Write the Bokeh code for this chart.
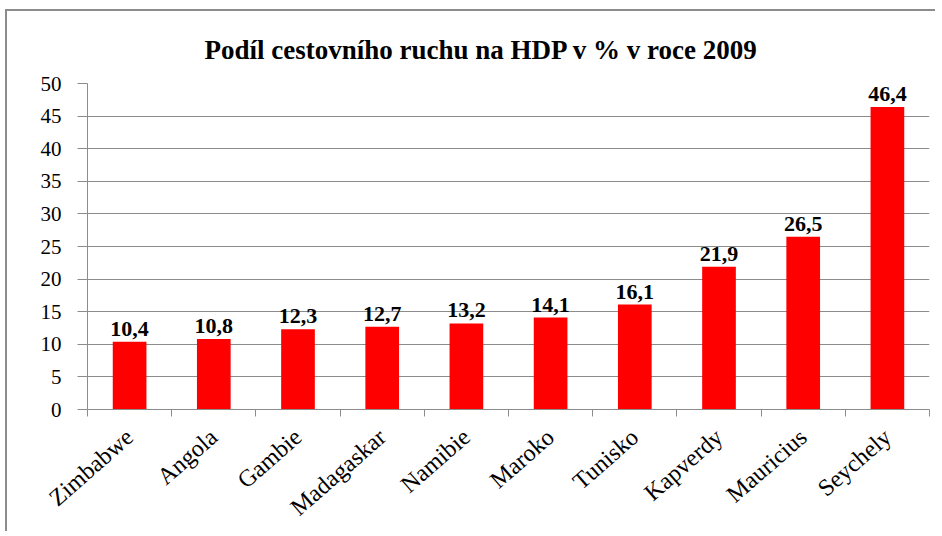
import math
from bokeh.plotting import figure
from bokeh.models import ColumnDataSource, Range1d, FixedTicker
from bokeh.core.properties import value
from bokeh.embed import file_html
from bokeh.resources import INLINE

categories = ["Zimbabwe", "Angola", "Gambie", "Madagaskar", "Namibie",
              "Maroko", "Tunisko", "Kapverdy", "Mauricius", "Seychely"]
values = [10.4, 10.8, 12.3, 12.7, 13.2, 14.1, 16.1, 21.9, 26.5, 46.4]
y_ticks = [0, 5, 10, 15, 20, 25, 30, 35, 40, 45, 50]
title_text = "Podíl cestovního ruchu na HDP v % v roce 2009"

xs = [i + 0.5 for i in range(len(categories))]
labels = [f"{v:.1f}".replace(".", ",") for v in values]
source = ColumnDataSource(dict(x=xs, top=values, label=labels))

SERIF = "Liberation Serif"
GRAY = "#8c8c8c"

p = figure(width=930, height=522, output_backend="svg", toolbar_location=None,
           x_range=Range1d(0, len(categories)), y_range=Range1d(0, 50),
           min_border_left=80, min_border_right=8, min_border_top=72,
           min_border_bottom=124)
p.styles = {"border-left": "2px solid #8c8c8c", "border-top": "2px solid #8c8c8c",
            "margin-left": "5px", "margin-top": "9px"}

p.title.text = title_text
p.title.align = "left"
p.title.text_font = SERIF
p.title.text_font_size = "27px"
p.title.text_font_style = "bold"
p.title.text_color = "black"
p.title.standoff = 38
p.title.offset = 117

p.outline_line_color = None
p.background_fill_color = "white"
p.border_fill_color = "white"

p.vbar(x="x", top="top", width=0.4, bottom=0, source=source,
       fill_color="#ff0000", line_color=None)
p.text(x="x", y="top", text="label", source=source,
       text_font=value(SERIF), text_font_size="22px", text_font_style="bold",
       text_align="center", text_baseline="alphabetic", y_offset=-13,
       text_color="black")

# y axis
p.yaxis.ticker = FixedTicker(ticks=y_ticks)
p.yaxis.axis_line_color = GRAY
p.yaxis.major_tick_line_color = GRAY
p.yaxis.major_tick_out = 10
p.yaxis.major_tick_in = 0
p.yaxis.minor_tick_line_color = None
p.yaxis.major_label_text_font = SERIF
p.yaxis.major_label_text_font_size = "21px"
p.yaxis.major_label_text_color = "black"
p.yaxis.major_label_standoff = 16

# x axis: labels at category centres, tick marks at category boundaries
p.xaxis.ticker = FixedTicker(ticks=xs, minor_ticks=list(range(len(categories) + 1)))
p.xaxis.major_label_overrides = {x: c for x, c in zip(xs, categories)}
p.xaxis.major_tick_line_color = None
p.xaxis.minor_tick_line_color = GRAY
p.xaxis.minor_tick_out = 7
p.xaxis.minor_tick_in = 0
p.xaxis.axis_line_color = GRAY
p.xaxis.major_label_orientation = 0.72
p.xaxis.major_label_text_font = SERIF
p.xaxis.major_label_text_font_size = "24px"
p.xaxis.major_label_text_color = "black"
p.xaxis.major_label_standoff = 17

p.xgrid.grid_line_color = None
p.ygrid.ticker = FixedTicker(ticks=y_ticks)
p.ygrid.grid_line_color = GRAY
p.ygrid.grid_line_width = 1

open("out.html", "w").write(file_html(p, INLINE))
